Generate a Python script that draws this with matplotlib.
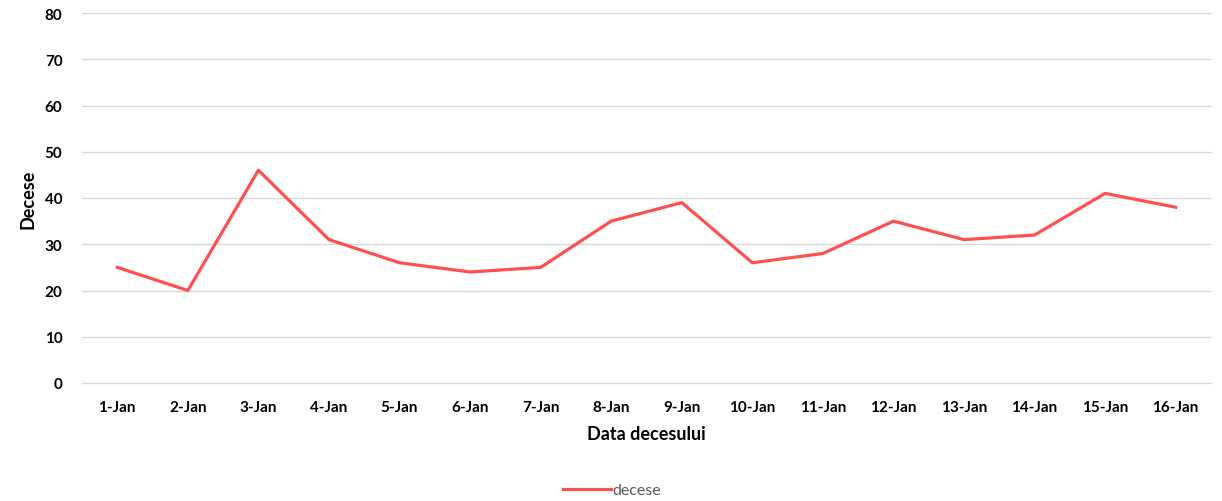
import matplotlib
matplotlib.use("Agg")
import matplotlib.pyplot as plt
import numpy as np

plt.rcParams["font.family"] = ["Lato", "DejaVu Sans"]

days = ["1-Jan", "2-Jan", "3-Jan", "4-Jan", "5-Jan", "6-Jan", "7-Jan", "8-Jan",
        "9-Jan", "10-Jan", "11-Jan", "12-Jan", "13-Jan", "14-Jan", "15-Jan", "16-Jan"]
decese = [25, 20, 46, 31, 26, 24, 25, 35, 39, 26, 28, 35, 31, 32, 41, 38]
y_ticks = [0, 10, 20, 30, 40, 50, 60, 70, 80]

W, H = 1222, 502
fig = plt.figure(figsize=(W / 100, H / 100), dpi=100)
ax = fig.add_axes([82 / W, 1 - 384 / H, (1211 - 82) / W, (384 - 14) / H])

x = np.arange(len(days))
line, = ax.plot(x, decese, color="#FF5050", linewidth=2.3, label="decese")

ax.set_xlim(-0.5, len(days) - 0.5)
ax.set_ylim(0, 80)
ax.set_yticks(y_ticks)
ax.set_xticks(x)
ax.set_xticklabels(days)
ax.grid(axis="y", color="#D9D9D9", linewidth=1)
for gl in ax.get_ygridlines():
    gl.set_clip_on(False)
ax.set_axisbelow(True)
for s in ax.spines.values():
    s.set_visible(False)
ax.tick_params(length=0, labelsize=11)
ax.tick_params(axis="x", pad=12)
ax.tick_params(axis="y", pad=14)
for lbl in ax.get_xticklabels() + ax.get_yticklabels():
    lbl.set_fontweight("bold")

ax.set_xlabel("Data decesului", fontsize=13, fontweight="bold", labelpad=8)
ax.set_ylabel("Decese", fontsize=13, fontweight="bold", labelpad=6)

leg = fig.legend(handles=[line], loc="center", bbox_to_anchor=(612 / W, 1 - 491 / H),
                 frameon=False, fontsize=11.5, handlelength=3, handletextpad=0.1)
for t in leg.get_texts():
    t.set_color("#595959")

fig.savefig("out.png", dpi=100)
